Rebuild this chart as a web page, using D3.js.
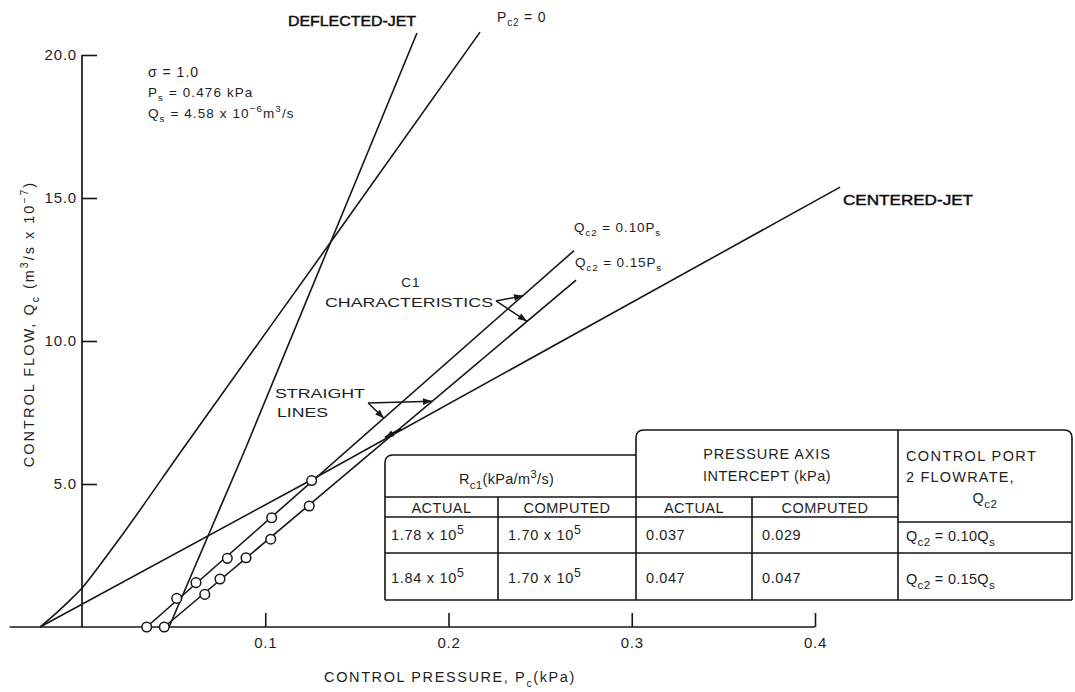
<!DOCTYPE html>
<html><head><meta charset="utf-8">
<script src="https://cdn.jsdelivr.net/npm/d3@7/dist/d3.min.js"></script>
<style>
html,body{margin:0;padding:0;background:#fff;}
svg{display:block;font-family:"Liberation Sans",Arial,Helvetica,sans-serif;}
</style></head>
<body>
<svg id="chart" width="1075" height="692"></svg>
<script>
// ---- data (Pc in kPa, Qc in m^3/s x 10^-7) ----
const xTickValues = [0.1, 0.2, 0.3, 0.4];
const xTickLabels = ["0.1", "0.2", "0.3", "0.4"];
const yTickValues = [5, 10, 15, 20];
const yTickLabels = ["5.0", "10.0", "15.0", "20.0"];

const pc2ZeroPc = [-0.0229, -0.0147, -0.0065, 0.0005, 0.0098, 0.0207, 0.0546, 0.1381, 0.2172];
const pc2ZeroQc = [0, 0.45, 0.94, 1.40, 2.17, 3.11, 6.19, 13.67, 20.80];
const deflectedPc = [0.0475, 0.0889, 0.1828];
const deflectedQc = [0, 6.19, 20.77];
const centeredPc = [-0.0229, 0.1253, 0.4137];
const centeredQc = [0, 5.15, 15.38];
const qc210LinePc = [0.0353, 0.2685];
const qc210LineQc = [0, 13.16];
const qc215LinePc = [0.0449, 0.2696];
const qc215LineQc = [0, 12.13];
const qc210PointsPc = [0.0353, 0.0517, 0.0622, 0.0793, 0.1035, 0.1253];
const qc210PointsQc = [0, 1.00, 1.55, 2.40, 3.82, 5.12];
const qc215PointsPc = [0.0449, 0.0670, 0.0753, 0.0895, 0.1030, 0.1240];
const qc215PointsQc = [0, 1.14, 1.68, 2.42, 3.07, 4.23];

const tableSubHeaders = ["ACTUAL", "COMPUTED", "ACTUAL", "COMPUTED"];
const rcActual = ["1.78", "1.84"];
const rcComputed = ["1.70", "1.70"];
const interceptActual = ["0.037", "0.047"];
const interceptComputed = ["0.029", "0.047"];
const flowRates = ["0.10", "0.15"];

// ---- setup ----
const svg = d3.select("#chart");
const x = d3.scaleLinear().domain([0, 0.4]).range([82, 815]);
const y = d3.scaleLinear().domain([0, 20]).range([627, 55]);
const INK = "#161616";
const TXT = "#1e1e1e";

function rich(g, parts, fs, sc) {
  let cur = 0;
  parts.forEach(p => {
    const mode = p[1];
    const target = mode === "sub" ? fs * 0.32 : mode === "sup" ? -fs * 0.42 : 0;
    const ts = g.append("tspan").text(p[0]);
    if (mode) ts.attr("font-size", fs * (sc || 0.72));
    if (target - cur !== 0) ts.attr("dy", target - cur);
    cur = target;
  });
  return g;
}
function label(px, py, parts, opts = {}) {
  const fs = opts.fs || 13;
  const t = svg.append("text").attr("x", px).attr("y", py)
    .attr("font-size", fs).attr("fill", opts.fill || TXT)
    .attr("text-anchor", opts.anchor || "start")
    .attr("letter-spacing", opts.ls == null ? 0.6 : opts.ls);
  if (opts.weight) t.attr("font-weight", opts.weight);
  if (opts.stroke) t.attr("stroke", opts.fill || TXT).attr("stroke-width", opts.stroke);
  if (opts.transform) t.attr("transform", opts.transform);
  if (typeof parts === "string") t.text(parts); else rich(t, parts, fs, opts.sc);
  if (opts.len) t.attr("textLength", opts.len).attr("lengthAdjust", "spacingAndGlyphs");
  return t;
}

// ---- axes ----
const xAxis = d3.axisBottom(x).tickValues(xTickValues)
  .tickFormat((d, i) => xTickLabels[i]).tickSizeInner(-14).tickSizeOuter(0).tickPadding(10);
const gx = svg.append("g").attr("transform", `translate(0,${y(0)})`).call(xAxis);
gx.select(".domain").remove();
gx.selectAll(".tick line").attr("stroke", INK).attr("stroke-width", 1.6);
gx.selectAll(".tick text").attr("font-size", 15).attr("fill", TXT).attr("letter-spacing", 0.8)
  .attr("font-family", "Liberation Sans, Arial, sans-serif");
svg.append("line").attr("x1", x(-0.0395)).attr("x2", x(0.4)).attr("y1", y(0)).attr("y2", y(0))
  .attr("stroke", INK).attr("stroke-width", 1.7);

const yAxis = d3.axisLeft(y).tickValues(yTickValues)
  .tickFormat((d, i) => yTickLabels[i]).tickSizeInner(-15).tickSizeOuter(0).tickPadding(5);
const gy = svg.append("g").attr("transform", `translate(${x(0)},0)`).call(yAxis);
gy.select(".domain").remove();
gy.selectAll(".tick line").attr("stroke", INK).attr("stroke-width", 1.6);
gy.selectAll(".tick text").attr("font-size", 15).attr("fill", TXT).attr("letter-spacing", 0.8)
  .attr("font-family", "Liberation Sans, Arial, sans-serif");
svg.append("line").attr("x1", x(0)).attr("x2", x(0)).attr("y1", y(0)).attr("y2", y(20))
  .attr("stroke", INK).attr("stroke-width", 1.7);

// axis titles
label(450, 682, [["CONTROL PRESSURE, P"], ["c", "sub"], ["(kPa)"]], {fs: 14.5, anchor: "middle", ls: 1.6});
label(0, 0, [["CONTROL FLOW, Q"], ["c", "sub"], ["  (m"], ["3", "sup"], ["/s x 10"], ["\u22127", "sup"], [")"]],
  {fs: 14.5, anchor: "middle", ls: 2.0, transform: "translate(34,324) rotate(-90)"});

// ---- curves ----
const line = d3.line().x(d => x(d[0])).y(d => y(d[1]));
function zip(a, b) { return a.map((v, i) => [v, b[i]]); }
const seriesList = [
  {pc: pc2ZeroPc, qc: pc2ZeroQc, curve: d3.curveMonotoneX},
  {pc: deflectedPc, qc: deflectedQc, curve: d3.curveLinear},
  {pc: centeredPc, qc: centeredQc, curve: d3.curveLinear},
  {pc: qc210LinePc, qc: qc210LineQc, curve: d3.curveLinear},
  {pc: qc215LinePc, qc: qc215LineQc, curve: d3.curveLinear}
];
seriesList.forEach(s => {
  svg.append("path").attr("d", line.curve(s.curve)(zip(s.pc, s.qc)))
    .attr("fill", "none").attr("stroke", INK).attr("stroke-width", 1.6);
});
[zip(qc210PointsPc, qc210PointsQc), zip(qc215PointsPc, qc215PointsQc)].forEach(pts => {
  svg.selectAll(null).data(pts).enter().append("circle")
    .attr("cx", d => x(d[0])).attr("cy", d => y(d[1])).attr("r", 4.8)
    .attr("fill", "#fff").attr("stroke", INK).attr("stroke-width", 1.5);
});

// ---- curve labels ----
label(288, 26, "DEFLECTED-JET", {fs: 14, ls: 0, len: 128, fill: "#0d0d0d", stroke: 0.45});
label(497, 22, [["P"], ["c2", "sub"], [" = 0"]], {fs: 14, ls: 0.8});
label(843, 205, "CENTERED-JET", {fs: 14, ls: 0, len: 130, fill: "#0d0d0d", stroke: 0.45});
label(574, 232, [["Q"], ["c2", "sub"], [" = 0.10P"], ["s", "sub"]], {fs: 13.5, ls: 0.9});
label(575, 267, [["Q"], ["c2", "sub"], [" = 0.15P"], ["s", "sub"]], {fs: 13.5, ls: 0.9});

label(148, 77, "\u03C3 = 1.0", {fs: 14, ls: 1});
label(148, 97, [["P"], ["s", "sub"], [" = 0.476 kPa"]], {fs: 13.5, ls: 1.1});
label(148, 118, [["Q"], ["s", "sub"], [" = 4.58 x 10"], ["\u22126", "sup"], ["m"], ["3", "sup"], ["/s"]], {fs: 13.5, ls: 1.1});

label(411, 287, "C1", {fs: 13.5, anchor: "middle", ls: 1});
label(325, 307, "CHARACTERISTICS", {fs: 13.5, ls: 0, len: 168});
label(275, 398, "STRAIGHT", {fs: 13.5, ls: 0, len: 90});
label(277, 417, "LINES", {fs: 13.5, ls: 0, len: 51});

// ---- annotation arrows (anchored in data units) ----
function arrow(from, to, opts = {}) {
  const x1 = x(from[0]), y1 = y(from[1]), x2 = x(to[0]), y2 = y(to[1]);
  svg.append("line").attr("x1", x1).attr("y1", y1).attr("x2", x2).attr("y2", y2)
    .attr("stroke", INK).attr("stroke-width", opts.w || 1.5);
  const ang = Math.atan2(y2 - y1, x2 - x1), L = 9, W = 3.3;
  const bx = x2 - L * Math.cos(ang), by = y2 - L * Math.sin(ang);
  const px = -Math.sin(ang) * W, py = Math.cos(ang) * W;
  svg.append("path").attr("d", `M${x2},${y2}L${bx + px},${by + py}L${bx - px},${by - py}Z`).attr("fill", INK);
}
const c1Origin = [0.2259, 11.40];
arrow(c1Origin, [0.2407, 11.58]);
arrow(c1Origin, [0.2428, 10.69]);
const slOrigin = [0.1561, 7.83];
arrow(slOrigin, [0.1910, 7.89]);
arrow(slOrigin, [0.1648, 7.30]);
arrow([0.1741, 6.93], [0.1653, 6.62], {w: 2.2});

// ---- table ----
const T = {l: 385, m: 636, r: 898, e: 1072, topL: 455, top: 430, h1: 497, h2: 517, h2r: 522, r1: 553, b: 600, v1: 498, v2: 752};
const rad = 8;
const tg = svg.append("g").attr("fill", "none").attr("stroke", INK).attr("stroke-width", 1.6);
tg.append("path").attr("d", `M${T.l},${T.b}V${T.topL + rad}Q${T.l},${T.topL} ${T.l + rad},${T.topL}H${T.m}`);
tg.append("path").attr("d", `M${T.m},${T.b}V${T.top + rad}Q${T.m},${T.top} ${T.m + rad},${T.top}H${T.e - rad}Q${T.e},${T.top} ${T.e},${T.top + rad}V${T.b}`);
tg.append("path").attr("d", `M${T.r},${T.top}V${T.b}`);
tg.append("path").attr("d", `M${T.l},${T.h1}H${T.r}M${T.l},${T.h2}H${T.r}M${T.r},${T.h2r}H${T.e}M${T.l},${T.r1}H${T.e}M${T.l},${T.b}H${T.e}`);
tg.append("path").attr("d", `M${T.v1},${T.h1}V${T.b}M${T.v2},${T.h1}V${T.b}`);

const tfs = 14.5;
label((T.l + T.m) / 2 - 4, 484, [["R"], ["c1", "sub"], ["(kPa/m"], ["3", "sup"], ["/s)"]], {fs: tfs, anchor: "middle", ls: 0.3, sc: 0.8});
label((T.m + T.r) / 2, 459, "PRESSURE AXIS", {fs: tfs, anchor: "middle", ls: 0.9});
label((T.m + T.r) / 2, 481, "INTERCEPT (kPa)", {fs: tfs, anchor: "middle", ls: 0.5});
label(906, 461, "CONTROL PORT", {fs: tfs, ls: 1.4});
label(906, 482, "2 FLOWRATE,", {fs: tfs, ls: 1.2});
label(985, 503, [["Q"], ["c2", "sub"]], {fs: tfs, anchor: "middle", ls: 0.5, sc: 0.8});
const subX = [(T.l + T.v1) / 2, (T.v1 + T.m) / 2, (T.m + T.v2) / 2, (T.v2 + T.r) / 2];
tableSubHeaders.forEach((s, i) => label(subX[i], 513, s, {fs: tfs, anchor: "middle", ls: 0.5}));
const rowBase = [540, 583];
rowBase.forEach((yb, i) => {
  label(391, yb, [[rcActual[i] + " x 10"], ["5", "sup"]], {fs: tfs, ls: 0.7, sc: 0.85});
  label(508, yb, [[rcComputed[i] + " x 10"], ["5", "sup"]], {fs: tfs, ls: 0.7, sc: 0.85});
  label(646, yb, interceptActual[i], {fs: tfs, ls: 0.6});
  label(762, yb, interceptComputed[i], {fs: tfs, ls: 0.6});
  label(906, yb + 1, [["Q"], ["c2", "sub"], [" = " + flowRates[i] + "Q"], ["s", "sub"]], {fs: tfs, ls: 0.3, sc: 0.8});
});
</script>
</body></html>
